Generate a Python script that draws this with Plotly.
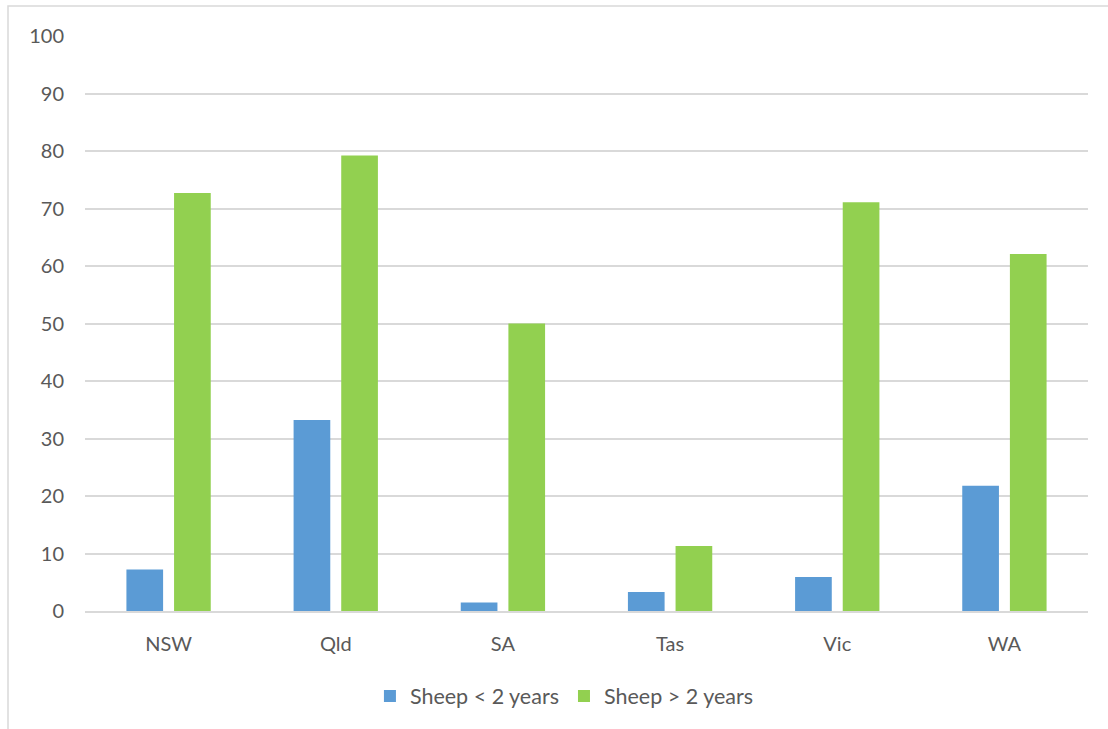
import plotly.graph_objects as go

categories = ["NSW", "Qld", "SA", "Tas", "Vic", "WA"]
sheep_under_2 = [7.2, 33.2, 1.5, 3.3, 5.9, 21.8]
sheep_over_2 = [72.7, 79.2, 50.0, 11.3, 71.1, 62.1]
series_names = ["Sheep < 2 years", "Sheep > 2 years"]
y_ticks = [0, 10, 20, 30, 40, 50, 60, 70, 80, 90, 100]

W, H = 1108, 729
ML, MR, MT, MB = 85, 20, 36, 117.5
pw = W - ML - MR
ph = H - MT - MB

fig = go.Figure()
fig.add_trace(go.Bar(x=categories, y=sheep_under_2, name=series_names[0],
                     marker=dict(color="#5B9BD5", line=dict(width=0))))
fig.add_trace(go.Bar(x=categories, y=sheep_over_2, name=series_names[1],
                     marker=dict(color="#92D050", line=dict(width=0))))

font_color = "#595959"
fig.update_layout(
    width=W, height=H,
    margin=dict(l=ML, r=MR, t=MT, b=MB, pad=0),
    paper_bgcolor="white", plot_bgcolor="white",
    barmode="group", bargap=0.43, bargroupgap=0.23,
    font=dict(family="Lato", size=20, color=font_color),
    showlegend=True,
    legend=dict(orientation="h", x=0.478, xanchor="center", y=-0.148, yanchor="middle",
                font=dict(family="Lato", size=21.5, color=font_color),
                itemwidth=30, tracegroupgap=0, bgcolor="rgba(0,0,0,0)"),
    xaxis=dict(showgrid=False, ticks="", showline=True, linecolor="#d9d9d9", linewidth=1.6,
               tickfont=dict(family="Lato", size=20, color=font_color),
               ticklabelstandoff=14),
    yaxis=dict(range=[0, 100], tickvals=y_ticks, showgrid=True, gridcolor="#d9d9d9",
               gridwidth=1.6, zeroline=False, showline=False, ticks="",
               tickfont=dict(family="Lato", size=20, color=font_color),
               ticklabelstandoff=20),
    shapes=[dict(type="rect", xref="paper", yref="paper",
                 x0=(8 - ML) / pw, x1=1.2, y0=-0.5, y1=(H - MB - 6) / ph,
                 line=dict(color="#d9d9d9", width=1.5), fillcolor="rgba(0,0,0,0)", layer="below")],
)

fig.write_html("out.html")
